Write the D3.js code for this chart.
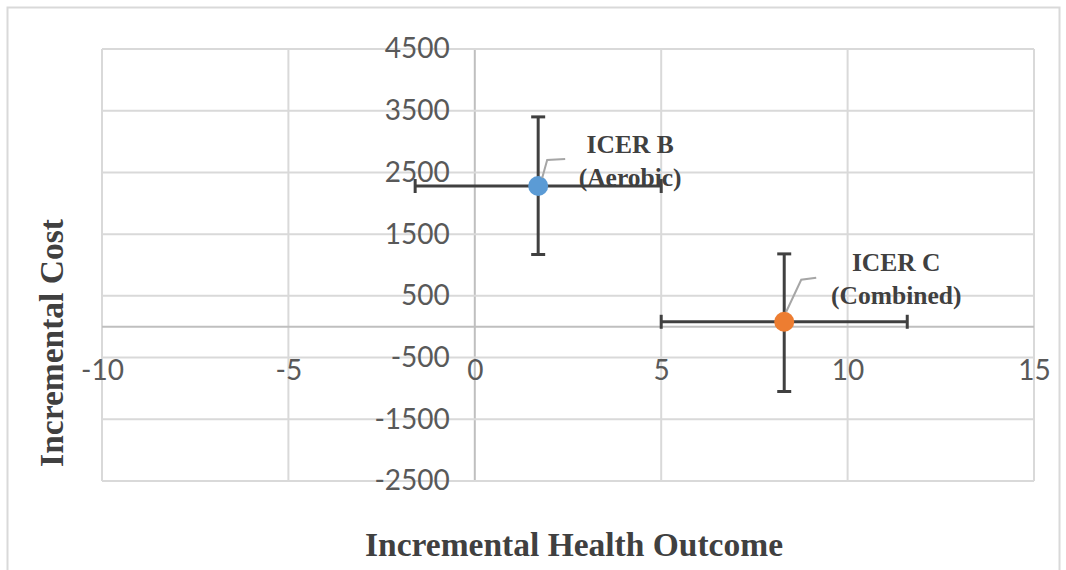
<!DOCTYPE html>
<html>
<head>
<meta charset="utf-8">
<script src="https://cdn.jsdelivr.net/npm/d3@7"></script>
<style>
  body { margin: 0; background: #fff; }
  #chart { width: 1066px; height: 570px; }
</style>
</head>
<body>
<div id="chart"></div>
<script>
// ICER points with error bars
const seriesNames = ["ICER B", "ICER C"];
const seriesSubtitles = ["(Aerobic)", "(Combined)"];
const seriesColors = ["#5b9bd5", "#ed7d31"];
const healthOutcome = [1.7, 8.3];
const incrementalCost = [2280, 80];
const outcomeLow = [-1.6, 5.0];
const outcomeHigh = [5.0, 11.6];
const costLow = [1170, -1050];
const costHigh = [3400, 1180];

const xTicks = [-10, -5, 0, 5, 10, 15];
const yTicks = [4500, 3500, 2500, 1500, 500, -500, -1500, -2500];

// label placement relative to the point (pixels)
const labelOffsets = [{dx: 92, dy: -33}, {dx: 112, dy: -51}];
const leaderPaths = [
  [[4, -8], [9, -26], [27, -27]],
  [[2, -10], [17, -42], [32, -44]]
];

const W = 1066, H = 570;
const plot = {left: 102, right: 1034, top: 49, bottom: 481};

const svg = d3.select("#chart").append("svg")
  .attr("width", W)
  .attr("height", H);

svg.append("rect")
  .attr("width", W).attr("height", H)
  .attr("fill", "#fff");

// chart area frame
svg.append("rect")
  .attr("x", 7.5).attr("y", 7.5)
  .attr("width", 1052).attr("height", 580)
  .attr("fill", "none")
  .attr("stroke", "#d9d9d9")
  .attr("stroke-width", 2);

const x = d3.scaleLinear().domain([-10, 15]).range([plot.left, plot.right]);
const y = d3.scaleLinear().domain([-2500, 4500]).range([plot.bottom, plot.top]);

const grid = svg.append("g");

grid.selectAll("line.v")
  .data(xTicks)
  .join("line")
  .attr("class", "v")
  .attr("x1", d => x(d)).attr("x2", d => x(d))
  .attr("y1", plot.top).attr("y2", plot.bottom)
  .attr("stroke", d => d === 0 ? "#bfbfbf" : "#d9d9d9")
  .attr("stroke-width", 2);

grid.selectAll("line.h")
  .data(yTicks)
  .join("line")
  .attr("class", "h")
  .attr("x1", plot.left).attr("x2", plot.right)
  .attr("y1", d => y(d)).attr("y2", d => y(d))
  .attr("stroke", "#d9d9d9")
  .attr("stroke-width", 2);

// horizontal axis line at cost = 0
grid.append("line")
  .attr("x1", plot.left).attr("x2", plot.right)
  .attr("y1", y(0)).attr("y2", y(0))
  .attr("stroke", "#bfbfbf")
  .attr("stroke-width", 2);

// tick labels (plain hyphen for negatives, like the original)
const fmt = d => String(d);

const yAxis = svg.append("g")
  .attr("transform", `translate(${x(0)},0)`)
  .call(d3.axisLeft(y).tickValues(yTicks).tickSize(0).tickPadding(25).tickFormat(fmt));

const xAxis = svg.append("g")
  .attr("transform", `translate(0,${y(0)})`)
  .call(d3.axisBottom(x).tickValues(xTicks).tickSize(0).tickPadding(33).tickFormat(fmt));

[yAxis, xAxis].forEach(a => {
  a.select(".domain").remove();
  a.selectAll("text")
    .style("font-family", "Lato, 'Open Sans', sans-serif")
    .style("font-size", "28px")
    .attr("fill", "#595959");
});

// error bars
const points = healthOutcome.map((v, i) => ({
  x: v, y: incrementalCost[i],
  xl: outcomeLow[i], xh: outcomeHigh[i],
  yl: costLow[i], yh: costHigh[i],
  name: seriesNames[i], sub: seriesSubtitles[i], color: seriesColors[i],
  off: labelOffsets[i], leader: leaderPaths[i]
}));

const cap = 7;
const bars = svg.append("g")
  .attr("stroke", "#404040")
  .attr("stroke-width", 3)
  .attr("fill", "none");

points.forEach(p => {
  const g = bars.append("g");
  g.append("line")
    .attr("x1", x(p.xl)).attr("x2", x(p.xh))
    .attr("y1", y(p.y)).attr("y2", y(p.y));
  g.append("line")
    .attr("x1", x(p.xl)).attr("x2", x(p.xl))
    .attr("y1", y(p.y) - cap).attr("y2", y(p.y) + cap);
  g.append("line")
    .attr("x1", x(p.xh)).attr("x2", x(p.xh))
    .attr("y1", y(p.y) - cap).attr("y2", y(p.y) + cap);
  g.append("line")
    .attr("x1", x(p.x)).attr("x2", x(p.x))
    .attr("y1", y(p.yl)).attr("y2", y(p.yh));
  g.append("line")
    .attr("x1", x(p.x) - cap).attr("x2", x(p.x) + cap)
    .attr("y1", y(p.yl)).attr("y2", y(p.yl));
  g.append("line")
    .attr("x1", x(p.x) - cap).attr("x2", x(p.x) + cap)
    .attr("y1", y(p.yh)).attr("y2", y(p.yh));
});

svg.append("g")
  .selectAll("circle")
  .data(points)
  .join("circle")
  .attr("cx", d => x(d.x))
  .attr("cy", d => y(d.y))
  .attr("r", 10)
  .attr("fill", d => d.color);

// leader lines
svg.append("g")
  .selectAll("path")
  .data(points)
  .join("path")
  .attr("d", d => d3.line()(d.leader.map(([dx, dy]) => [x(d.x) + dx, y(d.y) + dy])))
  .attr("fill", "none")
  .attr("stroke", "#a6a6a6")
  .attr("stroke-width", 2);

// data labels
const labels = svg.append("g")
  .style("font-family", "'Liberation Serif', 'Times New Roman', serif")
  .style("font-weight", "bold")
  .style("font-size", "25.5px")
  .attr("fill", "#404040")
  .attr("text-anchor", "middle");

points.forEach(p => {
  const lx = x(p.x) + p.off.dx, ly = y(p.y) + p.off.dy;
  labels.append("text").attr("x", lx).attr("y", ly).text(p.name);
  labels.append("text").attr("x", lx).attr("y", ly + 33).text(p.sub);
});

// axis titles
svg.append("text")
  .attr("x", 574).attr("y", 556)
  .attr("text-anchor", "middle")
  .style("font-family", "'Liberation Serif', 'Times New Roman', serif")
  .style("font-weight", "bold")
  .style("font-size", "33.5px")
  .attr("fill", "#404040")
  .text("Incremental Health Outcome");

svg.append("text")
  .attr("transform", "translate(63,343) rotate(-90)")
  .attr("text-anchor", "middle")
  .style("font-family", "'Liberation Serif', 'Times New Roman', serif")
  .style("font-weight", "bold")
  .style("font-size", "33.5px")
  .attr("fill", "#404040")
  .text("Incremental Cost");
</script>
</body>
</html>
